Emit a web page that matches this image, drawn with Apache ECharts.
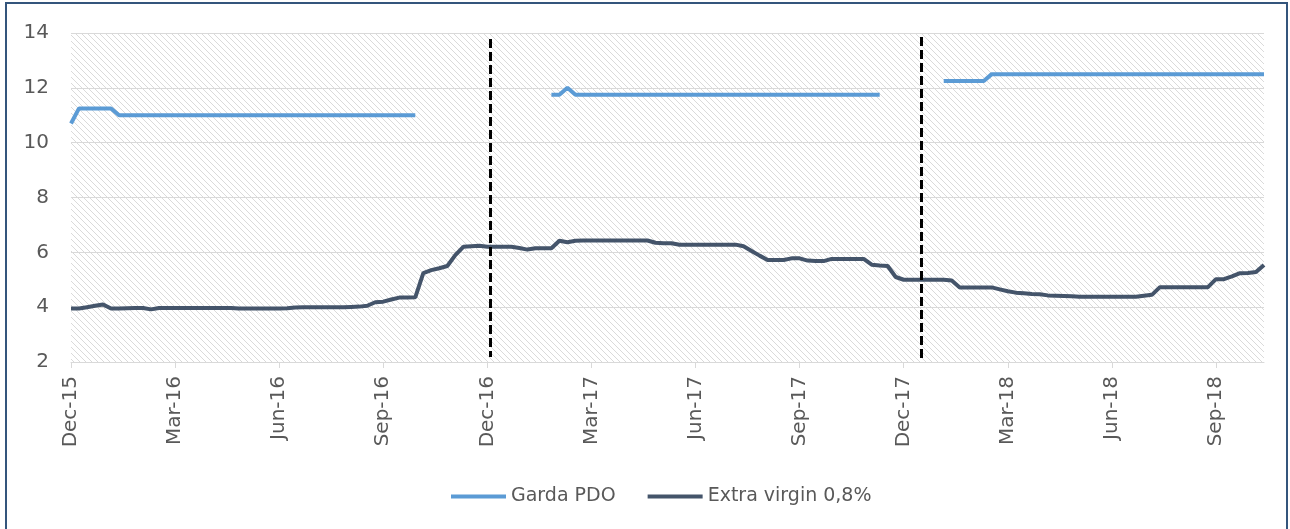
<!DOCTYPE html>
<html>
<head>
<meta charset="utf-8">
<title>Garda PDO vs Extra virgin</title>
<script src="https://cdn.jsdelivr.net/npm/echarts@6.0.0/dist/echarts.min.js"></script>
<style>
  html, body { margin: 0; padding: 0; background: #fff; }
  #main { width: 1290px; height: 529px; }
</style>
</head>
<body>
<div id="main"></div>
<script>
// weekly observations, Dec-15 .. Nov-18 (index = week number)
var tickLabels = ['Dec-15', 'Mar-16', 'Jun-16', 'Sep-16', 'Dec-16', 'Mar-17',
                  'Jun-17', 'Sep-17', 'Dec-17', 'Mar-18', 'Jun-18', 'Sep-18'];
var weeksPerTick = 13;

var gardaPdo = [
    10.7, 11.25, 11.25, 11.25, 11.25, 11.25, 11.0, 11.0, 11.0, 11.0,
    11.0, 11.0, 11.0, 11.0, 11.0, 11.0, 11.0, 11.0, 11.0, 11.0,
    11.0, 11.0, 11.0, 11.0, 11.0, 11.0, 11.0, 11.0, 11.0, 11.0,
    11.0, 11.0, 11.0, 11.0, 11.0, 11.0, 11.0, 11.0, 11.0, 11.0,
    11.0, 11.0, 11.0, 11.0, null, null, null, null, null, null,
    null, null, null, null, null, null, null, null, null, null,
    11.75, 11.75, 12.0, 11.75, 11.75, 11.75, 11.75, 11.75, 11.75, 11.75,
    11.75, 11.75, 11.75, 11.75, 11.75, 11.75, 11.75, 11.75, 11.75, 11.75,
    11.75, 11.75, 11.75, 11.75, 11.75, 11.75, 11.75, 11.75, 11.75, 11.75,
    11.75, 11.75, 11.75, 11.75, 11.75, 11.75, 11.75, 11.75, 11.75, 11.75,
    11.75, 11.75, null, null, null, null, null, null, null, 12.25,
    12.25, 12.25, 12.25, 12.25, 12.25, 12.5, 12.5, 12.5, 12.5, 12.5,
    12.5, 12.5, 12.5, 12.5, 12.5, 12.5, 12.5, 12.5, 12.5, 12.5,
    12.5, 12.5, 12.5, 12.5, 12.5, 12.5, 12.5, 12.5, 12.5, 12.5,
    12.5, 12.5, 12.5, 12.5, 12.5, 12.5, 12.5, 12.5, 12.5, 12.5
];

var extraVirgin = [
    3.95, 3.95, 4.0, 4.05, 4.1, 3.95, 3.95, 3.96, 3.97, 3.97,
    3.92, 3.97, 3.97, 3.97, 3.97, 3.97, 3.97, 3.97, 3.97, 3.97,
    3.97, 3.95, 3.95, 3.95, 3.95, 3.95, 3.95, 3.96, 3.99, 4.0,
    4.0, 4.0, 4.0, 4.0, 4.0, 4.01, 4.02, 4.05, 4.18, 4.2,
    4.28, 4.35, 4.35, 4.36, 5.24, 5.35, 5.42, 5.5, 5.9, 6.2,
    6.22, 6.24, 6.2, 6.2, 6.2, 6.2, 6.16, 6.1, 6.15, 6.15,
    6.15, 6.42, 6.37, 6.42, 6.43, 6.43, 6.43, 6.43, 6.43, 6.43,
    6.43, 6.43, 6.43, 6.35, 6.33, 6.33, 6.28, 6.28, 6.28, 6.28,
    6.28, 6.28, 6.28, 6.28, 6.22, 6.05, 5.88, 5.72, 5.72, 5.72,
    5.78, 5.78, 5.7, 5.68, 5.68, 5.76, 5.76, 5.76, 5.76, 5.76,
    5.55, 5.52, 5.5, 5.1, 5.0, 5.0, 5.0, 5.0, 5.0, 5.0,
    4.97, 4.72, 4.72, 4.72, 4.72, 4.72, 4.65, 4.58, 4.53, 4.51,
    4.48, 4.47, 4.43, 4.42, 4.41, 4.4, 4.38, 4.38, 4.38, 4.38,
    4.38, 4.38, 4.38, 4.38, 4.42, 4.45, 4.73, 4.73, 4.73, 4.73,
    4.73, 4.73, 4.73, 5.02, 5.02, 5.12, 5.24, 5.25, 5.28, 5.54
];

// the two dashed separators (week position)
var breakWeeks = [52.4, 106.2];

// pairs [week, value] for the value x axis
function toPairs(arr) {
    var out = [];
    for (var i = 0; i < arr.length; i++) out.push([i, arr[i]]);
    return out;
}

var tickWeeks = [];
for (var t = 0; t < tickLabels.length; t++) tickWeeks.push(t * weeksPerTick);

// hatched plot background
var hatch = document.createElement('canvas');
hatch.width = 6;
hatch.height = 6;
var hc = hatch.getContext('2d');
hc.strokeStyle = '#dadada';
hc.lineWidth = 1;
hc.beginPath();
hc.moveTo(-1, -1); hc.lineTo(7, 7);
hc.moveTo(-1, 5); hc.lineTo(1, 7);
hc.moveTo(5, -1); hc.lineTo(7, 1);
hc.stroke();

var font = 'DejaVu Sans';
var chart = echarts.init(document.getElementById('main'));

chart.setOption({
    animation: false,
    backgroundColor: '#fff',
    graphic: [{
        type: 'rect',
        shape: {x: 6, y: 3, width: 1281, height: 600},
        style: {fill: null, stroke: '#34557c', lineWidth: 2},
        silent: true
    }],
    grid: {
        left: 71, right: 26, top: 33, bottom: 167,
        show: true,
        borderWidth: 0,
        backgroundColor: {image: hatch, repeat: 'repeat'}
    },
    legend: {
        left: 446,
        top: 482,
        itemWidth: 55,
        itemHeight: 4,
        itemGap: 32,
        icon: 'rect',
        textStyle: {fontFamily: font, fontSize: 19, color: '#595959'},
        data: ['Garda PDO', 'Extra virgin 0,8%']
    },
    xAxis: {
        type: 'value',
        min: 0,
        max: gardaPdo.length - 1,
        axisLine: {lineStyle: {color: '#d9d9d9', width: 1}},
        axisTick: {show: true, length: 6, customValues: tickWeeks, lineStyle: {color: '#d9d9d9'}},
        splitLine: {show: false},
        axisLabel: {
            customValues: tickWeeks,
            rotate: 90,
            margin: 14,
            fontFamily: font,
            fontSize: 20,
            color: '#595959',
            formatter: function (v) {
                return tickLabels[Math.round(v / weeksPerTick)] || '';
            }
        }
    },
    yAxis: {
        type: 'value',
        min: 2,
        max: 14,
        interval: 2,
        axisLine: {show: false},
        axisTick: {show: false},
        splitLine: {lineStyle: {color: '#d9d9d9', width: 1}},
        axisLabel: {fontFamily: font, fontSize: 20, color: '#595959', margin: 22}
    },
    series: [{
        name: 'Garda PDO',
        type: 'line',
        data: toPairs(gardaPdo),
        symbol: 'none',
        connectNulls: false,
        lineStyle: {color: '#5b9bd5', width: 4},
        itemStyle: {color: '#5b9bd5'}
    }, {
        name: 'Extra virgin 0,8%',
        type: 'line',
        data: toPairs(extraVirgin),
        symbol: 'none',
        lineStyle: {color: '#44546a', width: 4},
        itemStyle: {color: '#44546a'},
        markLine: {
            silent: true,
            symbol: 'none',
            label: {show: false},
            lineStyle: {color: '#000', width: 3, type: [9, 4]},
            data: [
                [{coord: [breakWeeks[0], 13.78]}, {coord: [breakWeeks[0], 2.18]}],
                [{coord: [breakWeeks[1], 13.85]}, {coord: [breakWeeks[1], 2.07]}]
            ]
        }
    }]
});
</script>
</body>
</html>
